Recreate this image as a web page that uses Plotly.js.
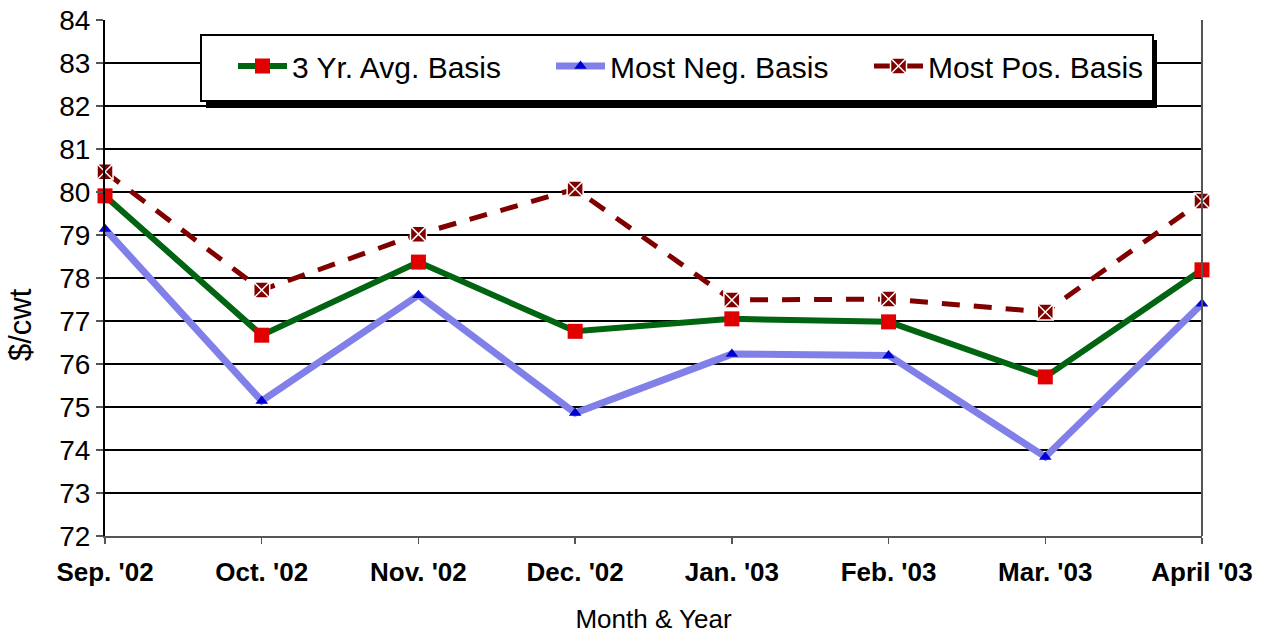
<!DOCTYPE html>
<html><head><meta charset="utf-8">
<script src="https://cdn.plot.ly/plotly-3.0.1.min.js"></script>
<style>html,body{margin:0;padding:0;background:#fff}#chart{width:1267px;height:635px}</style>
</head><body><div id="chart"></div>
<script>
const months = ["Sep. '02","Oct. '02","Nov. '02","Dec. '02","Jan. '03","Feb. '03","Mar. '03","April '03"];
const avgBasis = [79.91, 76.67, 78.37, 76.76, 77.05, 76.98, 75.70, 78.19];
const mostNeg  = [79.14, 75.14, 77.60, 74.86, 76.23, 76.20, 73.84, 77.40];
const mostPos  = [80.47, 77.72, 79.02, 80.07, 77.49, 77.51, 77.21, 79.79];
const yTicks = [72,73,74,75,76,77,78,79,80,81,82,83,84];
const yTitle = "$/cwt";
const xTitle = "Month & Year";

const idx = months.map((m,i)=>i);
const F = "Arial, 'Liberation Sans', sans-serif";

const traces = [
  {x: idx, y: avgBasis, name: "3 Yr. Avg. Basis", mode: "lines+markers", cliponaxis: false,
   line: {color: "#006410", width: 6},
   marker: {symbol: "square", size: 15, color: "#E00000"}},
  {x: idx, y: mostNeg, name: "Most Neg. Basis", mode: "lines+markers", cliponaxis: false,
   line: {color: "#8080E8", width: 7},
   marker: {symbol: "triangle-up", size: 11, color: "#0000D0"}},
  {x: idx, y: mostPos, name: "Most Pos. Basis", mode: "lines+markers", cliponaxis: false,
   line: {color: "#800000", width: 5, dash: "18px,14px"},
   marker: {symbol: "square-x", size: 16, color: "#800000", line: {color: "#ffffff", width: 1.5}}}
];

// plot area in px: x 105..1202, y 20..536
const PL = 105, PR = 1202, PT = 20, PB = 536;
const px = v => (v - PL) / (PR - PL);
const py = v => (PB - v) / (PB - PT);

const layout = {
  width: 1267, height: 635,
  margin: {l: PL, r: 1267 - PR, t: PT, b: 635 - PB},
  paper_bgcolor: "#fff", plot_bgcolor: "#fff",
  font: {family: F, color: "#000"},
  showlegend: true,
  legend: {orientation: "h", x: px(233), xanchor: "left", y: py(66), yanchor: "middle",
    bgcolor: "rgba(0,0,0,0)", borderwidth: 0,
    font: {family: F, size: 30, color: "#000"}, entrywidth: 254, itemwidth: 49},
  xaxis: {range: [0, 7], tickmode: "array", tickvals: idx, ticktext: months,
    showgrid: false, zeroline: false, showline: true, linecolor: "#555", linewidth: 2,
    ticks: "outside", ticklen: 6, tickcolor: "#555", tickwidth: 1.5,
    ticklabelstandoff: 6,
    tickfont: {family: F, size: 26, color: "#000", weight: "bold"},
    title: {text: xTitle, font: {family: F, size: 26, color: "#000"}, standoff: 24}},
  yaxis: {range: [72, 84], tickmode: "array", tickvals: yTicks,
    showgrid: true, gridcolor: "#000", gridwidth: 2.5, zeroline: false,
    showline: true, linecolor: "#000", linewidth: 2,
    ticks: "outside", ticklen: 7, tickcolor: "#555", tickwidth: 1.5,
    tickfont: {family: F, size: 28, color: "#000"}},
  annotations: [
    {text: yTitle, xref: "paper", yref: "paper", x: px(21), y: py(325),
     xanchor: "center", yanchor: "middle", textangle: -90, showarrow: false,
     font: {family: F, size: 31, color: "#000"}}
  ],
  shapes: [
    {type: "line", xref: "paper", yref: "paper", x0: 1, x1: 1, y0: 0, y1: 1,
     line: {color: "#555", width: 2}},
    {type: "rect", xref: "paper", yref: "paper", layer: "above",
     x0: px(206), x1: px(1157), y0: py(108), y1: py(40),
     fillcolor: "#000", line: {width: 0}},
    {type: "rect", xref: "paper", yref: "paper", layer: "above",
     x0: px(201), x1: px(1153), y0: py(101), y1: py(35),
     fillcolor: "#fff", line: {color: "#000", width: 2}}
  ]
};

Plotly.newPlot("chart", traces, layout, {displayModeBar: false, staticPlot: true});
</script></body></html>
